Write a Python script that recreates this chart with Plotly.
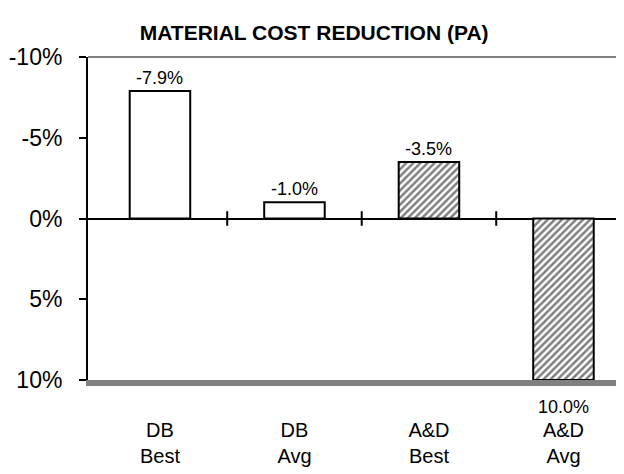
import plotly.graph_objects as go

categories = ["DB<br>Best", "DB<br>Avg", "A&D<br>Best", "A&D<br>Avg"]
values = [-7.9, -1.0, -3.5, 10.0]
hatched = [False, False, True, True]
tick_vals = [-10, -5, 0, 5, 10]
tick_text = ["-10%", "-5%", "0%", "5%", "10%"]
title_text = "MATERIAL COST REDUCTION (PA)"

FONT = "Liberation Sans, Arial, sans-serif"
W, H = 616, 466  # page body adds an 8px offset
xs = list(range(len(categories)))
labels = [f"{v:.1f}%" for v in values]

fig = go.Figure()
fig.add_trace(go.Bar(
    x=xs, y=values, width=0.45,
    marker=dict(
        color="white",
        line=dict(color="black", width=2),
        pattern=dict(
            shape=["/" if h else "" for h in hatched],
            fgcolor="black", bgcolor="white", size=5, solidity=0.5,
        ),
    ),
    cliponaxis=False,
    showlegend=False,
))

annotations = []
for x, v, t in zip(xs, values, labels):
    annotations.append(dict(
        x=x, y=v, xref="x", yref="y", text=t, showarrow=False,
        yanchor="bottom" if v < 0 else "top",
        yshift=1 if v < 0 else -15,
        font=dict(family=FONT, size=18, color="black"),
    ))

# category boundary tick marks crossing the zero line
shapes = []
for b in range(len(categories) - 1):
    shapes.append(dict(type="line", xref="x", yref="y", x0=b + 0.5, x1=b + 0.5,
                       y0=-0.45, y1=0.45, line=dict(color="black", width=2)))
# top border
shapes.append(dict(type="line", xref="paper", yref="paper", x0=0, x1=1, y0=1, y1=1,
                   line=dict(color="#808080", width=2)))

fig.update_layout(
    width=W, height=H,
    margin=dict(l=80, r=0, t=49, b=94),
    paper_bgcolor="white", plot_bgcolor="white",
    title=dict(text=f"<b>{title_text}</b>", x=0.497, xanchor="center",
               y=1 - 25 / H, yanchor="middle", yref="container",
               font=dict(family=FONT, size=21, color="black")),
    shapes=shapes,
    annotations=annotations,
    xaxis=dict(
        range=[-0.535, 3.45], tickvals=xs, ticktext=categories,
        showgrid=False, zeroline=False, showline=True, linecolor="#808080",
        linewidth=6, ticks="", tickfont=dict(family=FONT, size=20, color="black"),
        ticklabelstandoff=27, automargin=False,
    ),
    yaxis=dict(
        range=[10, -10], tickvals=tick_vals, ticktext=tick_text,
        showgrid=False, zeroline=True, zerolinecolor="black", zerolinewidth=2,
        showline=True, linecolor="black", linewidth=2,
        ticks="outside", ticklen=7, tickwidth=2, tickcolor="black",
        tickfont=dict(family=FONT, size=23, color="black"),
        ticklabelstandoff=12, automargin=False,
    ),
)

fig.write_html("out.html")
